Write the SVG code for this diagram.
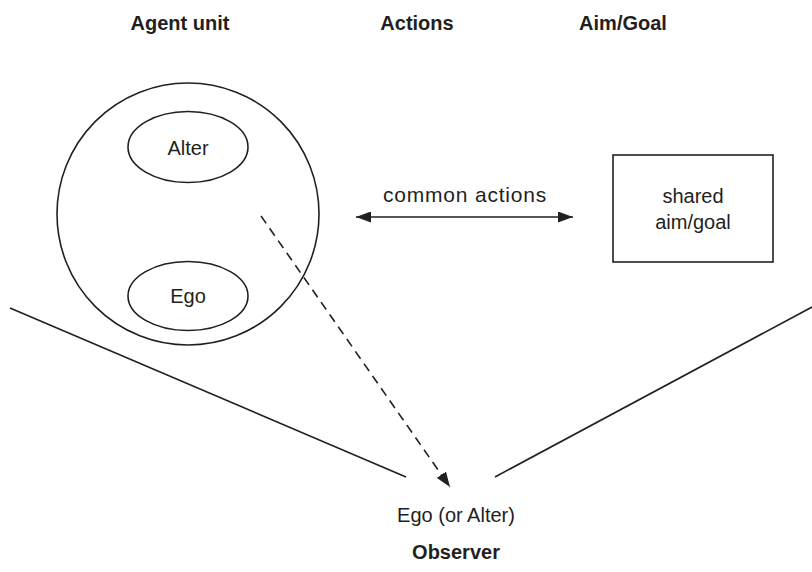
<svg xmlns="http://www.w3.org/2000/svg" width="812" height="572" viewBox="0 0 812 572">
<style>
text{font-family:"Liberation Sans",Arial,sans-serif;fill:#231f20;text-anchor:middle;font-size:20px}
.h{font-weight:bold}
.w{font-size:21px;letter-spacing:0.8px}
.s{fill:none;stroke:#231f20;stroke-width:1.6}
</style>
<defs>
<marker id="ah" viewBox="0 0 15 11" refX="15" refY="5.5" markerWidth="15" markerHeight="11" markerUnits="userSpaceOnUse" orient="auto-start-reverse">
<path d="M0,0 L15,5.5 L0,11 Z" fill="#231f20"/>
</marker>
</defs>
<rect width="812" height="572" fill="#fff"/>
<g id="headers">
<text class="h" x="180" y="30">Agent unit</text>
<text class="h" x="417" y="30">Actions</text>
<text class="h" x="623" y="30">Aim/Goal</text>
</g>
<g id="agent-unit">
<circle class="s" cx="188" cy="214" r="131"/>
</g>
<g id="alter">
<ellipse class="s" cx="188" cy="147" rx="60" ry="35.5"/>
<text x="188" y="155">Alter</text>
</g>
<g id="ego">
<ellipse class="s" cx="188" cy="296" rx="60" ry="34.5"/>
<text x="188" y="303">Ego</text>
</g>
<g id="goal">
<rect class="s" x="613" y="155" width="160" height="107"/>
<text x="693" y="203">shared</text>
<text x="693" y="229">aim/goal</text>
</g>
<g id="observer">
<text x="456" y="522">Ego (or Alter)</text>
<text class="h" x="456" y="559">Observer</text>
</g>
<g id="connectors">
<line class="s" x1="10" y1="308" x2="406" y2="477"/>
<line class="s" x1="495" y1="477" x2="812" y2="307"/>
<line class="s" x1="356" y1="217" x2="573" y2="217" marker-start="url(#ah)" marker-end="url(#ah)"/>
<text class="w" x="465" y="202">common actions</text>
<line class="s" x1="261" y1="216" x2="450" y2="487" stroke-dasharray="9 6" marker-end="url(#ah)"/>
</g>
</svg>
